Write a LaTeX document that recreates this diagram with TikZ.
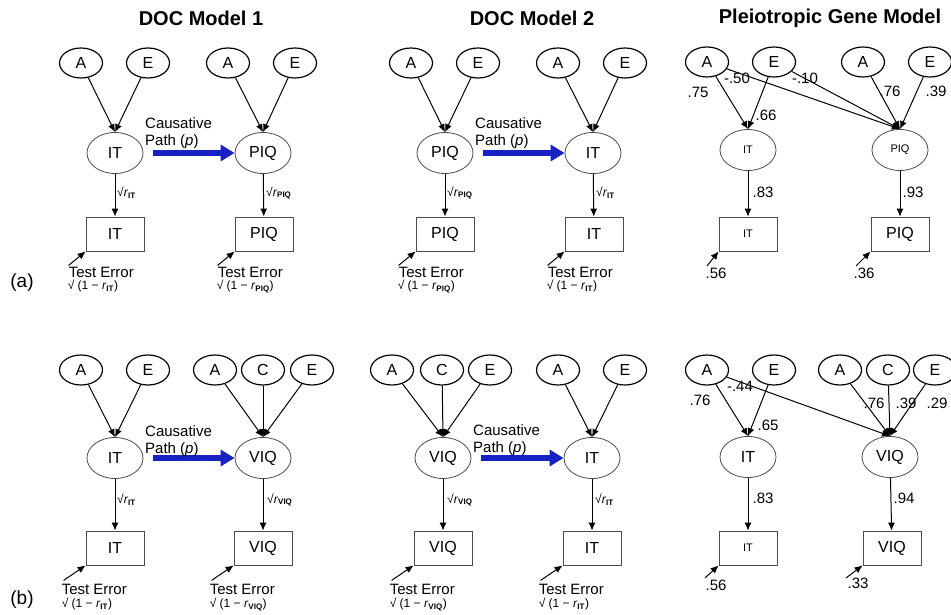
\documentclass[tikz,border=0pt]{standalone}
\usepackage{fontspec}
\setmainfont{Liberation Sans}
\usepackage{tikz}
\usetikzlibrary{shapes.geometric, arrows.meta, positioning}
\definecolor{causalblue}{RGB}{22,34,196}

\begin{document}
\begin{tikzpicture}[x=1pt, y=-1pt,
    factor/.style={ellipse, draw, line width=1.2pt, minimum width=43pt, minimum height=30pt, inner sep=0pt, font=\fontsize{16}{16}\selectfont},
    latent/.style={ellipse, draw=black!70, line width=0.8pt, minimum width=56pt, minimum height=41pt, inner sep=0pt, font=\fontsize{16}{16}\selectfont},
    manifest/.style={rectangle, draw=black!70, line width=0.8pt, minimum width=58pt, minimum height=34pt, inner sep=0pt, font=\fontsize{16}{16}\selectfont},
    smalltext/.style={font=\fontsize{11}{11}\selectfont},
    loading/.style={-{Latex[length=8pt,width=7pt]}, line width=1pt},
    causal/.style={-{Triangle[length=14pt,width=16pt]}, line width=6pt, causalblue},
    heading/.style={font=\fontsize{20}{20}\selectfont\bfseries},
    coef/.style={font=\fontsize{15}{15}\selectfont, inner sep=1pt},
    rootlbl/.style={font=\fontsize{12}{12}\selectfont, anchor=west, inner sep=1pt},
    errtext/.style={font=\fontsize{15}{15}\selectfont, anchor=west, inner sep=0pt},
    errform/.style={font=\fontsize{12}{12}\selectfont, anchor=west, inner sep=0pt},
    causetext/.style={font=\fontsize{15}{17}\selectfont, align=left, anchor=west, inner sep=0pt},
    panel/.style={font=\fontsize{19}{19}\selectfont}]

    \useasboundingbox (0,0) rectangle (951,615);

    % titles and panel letters
    \node[heading] (h1) at (201,18) {DOC Model 1};
    \node[heading] (h2) at (532,18) {DOC Model 2};
    \node[heading] (h3) at (830,18) {Pleiotropic Gene Model};
    \node[panel] (pa) at (22,283) {(a)};
    \node[panel] (pb) at (22,600) {(b)};

    % (a) DOC models 1 and 2
    \foreach \s/\l/\r in {0/IT/PIQ, 330/PIQ/IT} {
        \begin{scope}[xshift=\s]
            \node[factor] (lA\s) at (81,63) {A};
            \node[factor] (lE\s) at (148,63) {E};
            \node[factor] (rA\s) at (228,63) {A};
            \node[factor] (rE\s) at (295,63) {E};
            \node[latent] (lL\s) at (115,153) {\l};
            \node[latent] (rL\s) at (263,153) {\r};
            \node[manifest] (lM\s) at (115,234) {\l};
            \node[manifest] (rM\s) at (264,234) {\r};
            \draw[loading] (lA\s) -- (lL\s.north);
            \draw[loading] (lE\s) -- (lL\s.north);
            \draw[loading] (rA\s) -- (rL\s.north);
            \draw[loading] (rE\s) -- (rL\s.north);
            \draw[loading] (lL\s) -- (lM\s);
            \draw[loading] (rL\s) -- (rM\s);
            \draw[causal] ([xshift=10pt]lL\s.east) -- (rL\s.west);
            \node[causetext] (cp\s) at (145,133) {Causative\\Path (\textit{p})};
            \node[rootlbl] (lr\s) at (116,193) {√\textit{r}\textsubscript{\textbf{\l}}};
            \node[rootlbl] (rr\s) at (265,193) {√\textit{r}\textsubscript{\textbf{\r}}};
        \end{scope}
    }
    \foreach \b/\sub in {lM0/IT, rM0/PIQ, lM330/PIQ, rM330/IT} {
        \coordinate (err\b) at ([shift={(-17,14)}]\b.south west);
        \draw[loading] (err\b) -- (\b.south west);
        \node[errtext] (te\b) at ([shift={(-17,21)}]\b.south west) {Test Error};
        \node[errform] (tf\b) at ([shift={(-18,35)}]\b.south west) {√\ (1\ −\ \textit{r}\textsubscript{\textbf{\sub}})};
    }

    % (b) DOC model 1
    \node[factor] (bA1) at (81,370) {A};
    \node[factor] (bE1) at (148,370) {E};
    \node[factor] (bA2) at (215,370) {A};
    \node[factor] (bC2) at (263,370) {C};
    \node[factor] (bE2) at (312,370) {E};
    \node[latent] (bIT1) at (115,458) {IT};
    \node[latent] (bVIQ1) at (263,458) {VIQ};
    \node[manifest] (bITm1) at (115,548) {IT};
    \node[manifest] (bVIQm1) at (263,548) {VIQ};
    \draw[loading] (bA1) -- (bIT1.north);
    \draw[loading] (bE1) -- (bIT1.north);
    \draw[loading] (bA2) -- (bVIQ1.north);
    \draw[loading] (bC2) -- (bVIQ1.north);
    \draw[loading] (bE2) -- (bVIQ1.north);
    \draw[loading] (bIT1) -- (bITm1);
    \draw[loading] (bVIQ1) -- (bVIQm1);
    \draw[causal] ([xshift=10pt]bIT1.east) -- (bVIQ1.west);
    \node[causetext] (bcp1) at (145,441) {Causative\\Path (\textit{p})};
    \node[rootlbl] (br1) at (116,500) {√\textit{r}\textsubscript{\textbf{IT}}};
    \node[rootlbl] (br2) at (266,500) {√\textit{r}\textsubscript{\textbf{VIQ}}};

    % (b) DOC model 2
    \node[factor] (bA3) at (392,370) {A};
    \node[factor] (bC3) at (442,370) {C};
    \node[factor] (bE3) at (490,370) {E};
    \node[factor] (bA4) at (558,370) {A};
    \node[factor] (bE4) at (625,370) {E};
    \node[latent] (bVIQ2) at (443,458) {VIQ};
    \node[latent] (bIT2) at (592,458) {IT};
    \node[manifest] (bVIQm2) at (443,548) {VIQ};
    \node[manifest] (bITm2) at (592,548) {IT};
    \draw[loading] (bA3) -- (bVIQ2.north);
    \draw[loading] (bC3) -- (bVIQ2.north);
    \draw[loading] (bE3) -- (bVIQ2.north);
    \draw[loading] (bA4) -- (bIT2.north);
    \draw[loading] (bE4) -- (bIT2.north);
    \draw[loading] (bVIQ2) -- (bVIQm2);
    \draw[loading] (bIT2) -- (bITm2);
    \draw[causal] ([xshift=10pt]bVIQ2.east) -- (bIT2.west);
    \node[causetext] (bcp2) at (473,440) {Causative\\Path (\textit{p})};
    \node[rootlbl] (br3) at (446,500) {√\textit{r}\textsubscript{\textbf{VIQ}}};
    \node[rootlbl] (br4) at (594,500) {√\textit{r}\textsubscript{\textbf{IT}}};

    \foreach \b/\sub in {bITm1/IT, bVIQm1/VIQ, bVIQm2/VIQ, bITm2/IT} {
        \coordinate (err\b) at ([shift={(-22,15)}]\b.south west);
        \draw[loading] (err\b) -- (\b.south west);
        \node[errtext] (te\b) at ([shift={(-24,24)}]\b.south west) {Test Error};
        \node[errform] (tf\b) at ([shift={(-24,39)}]\b.south west) {√\ (1\ −\ \textit{r}\textsubscript{\textbf{\sub}})};
    }

    % (a) pleiotropic gene model
    \node[factor] (pA1) at (707,62) {A};
    \node[factor] (pE1) at (774,62) {E};
    \node[factor] (pA2) at (863,62) {A};
    \node[factor] (pE2) at (930,62) {E};
    \node[latent, smalltext] (pIT) at (748,150) {IT};
    \node[latent, smalltext] (pPIQ) at (900,150) {PIQ};
    \node[manifest, smalltext] (pITm) at (748,234) {IT};
    \node[manifest] (pPIQm) at (900,234) {PIQ};
    \draw[loading] (pA1) -- (pIT.north);
    \draw[loading] (pE1) -- (pIT.north);
    \draw[loading] (pA1) -- (pPIQ.north);
    \draw[loading] (pE1) -- (pPIQ.north);
    \draw[loading] (pA2) -- (pPIQ.north);
    \draw[loading] (pE2) -- (pPIQ.north);
    \draw[loading] (pIT) -- (pITm);
    \draw[loading] (pPIQ) -- (pPIQm);
    \coordinate (epIT) at (707,266);
    \coordinate (epPIQ) at (856,266);
    \draw[loading] (epIT) -- (pITm.south west);
    \draw[loading] (epPIQ) -- (pPIQm.south west);
    \foreach \n/\x/\y/\v in {c1/698/92/.75, c2/737/78/-.50, c3/805/78/-.10, c4/766/115/.66,
                             c5/890/91/.76, c6/936/91/.39, c7/763/192/.83, c8/913/192/.93,
                             c9/716/273/.56, c10/864/273/.36} {
        \node[coef] (\n) at (\x,\y) {\v};
    }

    % (b) pleiotropic gene model
    \node[factor] (qA1) at (707,370) {A};
    \node[factor] (qE1) at (774,370) {E};
    \node[factor] (qA2) at (840,370) {A};
    \node[factor] (qC2) at (888,370) {C};
    \node[factor] (qE2) at (935,370) {E};
    \node[latent] (qIT) at (748,457) {IT};
    \node[latent] (qVIQ) at (890,457) {VIQ};
    \node[manifest, smalltext] (qITm) at (748,548) {IT};
    \node[manifest] (qVIQm) at (892,548) {VIQ};
    \draw[loading] (qA1) -- (qIT.north);
    \draw[loading] (qE1) -- (qIT.north);
    \draw[loading] (qA1) -- (qVIQ.north);
    \draw[loading] (qA2) -- (qVIQ.north);
    \draw[loading] (qC2) -- (qVIQ.north);
    \draw[loading] (qE2) -- (qVIQ.north);
    \draw[loading] (qIT) -- (qITm);
    \draw[loading] (qVIQ) -- (qVIQm);
    \coordinate (eqIT) at (705,578);
    \coordinate (eqVIQ) at (846,578);
    \draw[loading] (eqIT) -- (qITm.south west);
    \draw[loading] (eqVIQ) -- (qVIQm.south west);
    \foreach \n/\x/\y/\v in {d1/700/400/.76, d2/740/386/-.44, d3/768/425/.65, d4/874/403/.76,
                             d5/906/403/.39, d6/937/403/.29, d7/763/498/.83, d8/904/498/.94,
                             d9/716/585/.56, d10/858/583/.33} {
        \node[coef] (\n) at (\x,\y) {\v};
    }
\end{tikzpicture}
\end{document}
